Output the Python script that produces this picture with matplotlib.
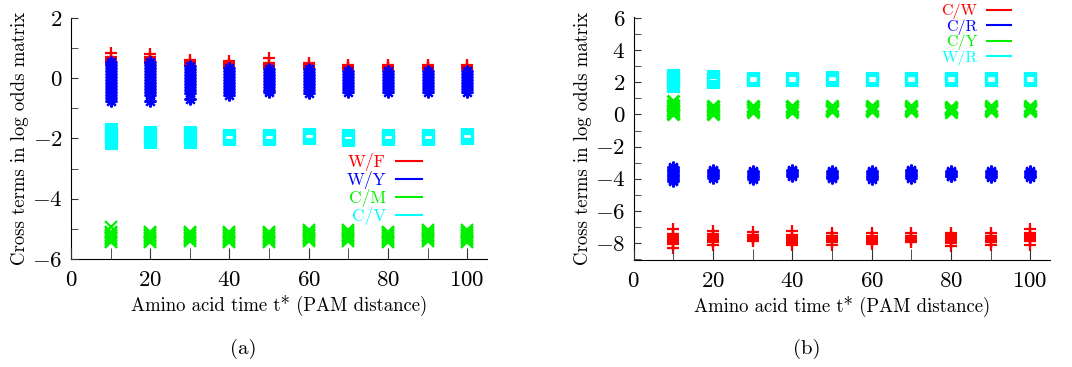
import matplotlib
matplotlib.use('Agg')
import matplotlib.pyplot as plt
from matplotlib.lines import Line2D

plt.rcParams['font.family'] = ['cmr10', 'DejaVu Serif']
plt.rcParams['mathtext.fontset'] = 'cm'
plt.rcParams['axes.formatter.use_mathtext'] = True

# PAM distances where the cross terms were sampled
pam = [10, 20, 30, 40, 50, 60, 70, 80, 90, 100]

# panel (a): values, one list per PAM distance
wf_vals = [[0.85, 0.7, 0.65, 0.6, 0.55, 0.5, 0.45],
           [0.8, 0.7, 0.65, 0.6, 0.55, 0.5],
           [0.62, 0.55, 0.5, 0.45, 0.4],
           [0.58, 0.5, 0.45, 0.4, 0.35],
           [0.68, 0.5, 0.45, 0.4, 0.35],
           [0.5, 0.45, 0.4, 0.35, 0.3],
           [0.45, 0.4, 0.35, 0.3],
           [0.45, 0.4, 0.35, 0.3],
           [0.45, 0.4, 0.35, 0.3],
           [0.45, 0.4, 0.35, 0.3]]
wy_vals = [[0.55, 0.45, 0.35, 0.25, 0.15, 0.05, -0.05, -0.15, -0.25, -0.35, -0.45, -0.55, -0.65, -0.75],
           [0.55, 0.45, 0.35, 0.25, 0.15, 0.05, -0.05, -0.15, -0.25, -0.35, -0.45, -0.55, -0.75],
           [0.4, 0.3, 0.2, 0.1, 0.0, -0.1, -0.2, -0.3, -0.4, -0.5, -0.7],
           [0.35, 0.25, 0.15, 0.05, -0.05, -0.15, -0.25, -0.35, -0.45, -0.55],
           [0.3, 0.2, 0.1, 0.0, -0.1, -0.2, -0.3, -0.4, -0.45],
           [0.3, 0.2, 0.1, 0.0, -0.1, -0.2, -0.3, -0.4, -0.48],
           [0.25, 0.15, 0.05, -0.05, -0.15, -0.25, -0.35, -0.45],
           [0.25, 0.15, 0.05, -0.05, -0.15, -0.25, -0.35, -0.45],
           [0.25, 0.15, 0.05, -0.05, -0.15, -0.25, -0.35, -0.45],
           [0.25, 0.15, 0.05, -0.05, -0.15, -0.25, -0.35, -0.45]]
cm_vals = [[-4.95, -5.1, -5.15, -5.2, -5.25, -5.3, -5.35, -5.4, -5.45],
           [-5.1, -5.15, -5.2, -5.25, -5.3, -5.35, -5.4, -5.45],
           [-5.1, -5.15, -5.2, -5.25, -5.3, -5.35, -5.4],
           [-5.1, -5.15, -5.2, -5.25, -5.3, -5.35, -5.4, -5.45],
           [-5.1, -5.15, -5.2, -5.25, -5.3, -5.35, -5.4, -5.45],
           [-5.05, -5.1, -5.15, -5.2, -5.25, -5.3, -5.35, -5.4],
           [-5.05, -5.1, -5.15, -5.2, -5.25, -5.3, -5.35, -5.4],
           [-5.1, -5.15, -5.2, -5.25, -5.3, -5.35, -5.4, -5.45],
           [-5.05, -5.1, -5.15, -5.2, -5.25, -5.3, -5.35, -5.4],
           [-5.05, -5.1, -5.15, -5.2, -5.25, -5.3, -5.35, -5.4, -5.45]]
cv_vals = [[-1.7, -1.75, -1.8, -1.85, -1.9, -1.95, -2.0, -2.05, -2.1, -2.15],
           [-1.78, -1.82, -1.86, -1.9, -1.94, -1.98, -2.02, -2.06, -2.1],
           [-1.78, -1.82, -1.86, -1.9, -1.94, -1.98, -2.02, -2.06, -2.1],
           [-1.88, -1.9, -1.92, -1.94, -1.96, -1.98, -2.0, -2.02],
           [-1.88, -1.9, -1.92, -1.94, -1.96, -1.98, -2.0, -2.02],
           [-1.84, -1.86, -1.88, -1.9, -1.92, -1.94, -1.96, -1.98],
           [-1.9, -1.92, -1.94, -1.96, -1.98, -2.0, -2.02, -2.04],
           [-1.88, -1.9, -1.92, -1.94, -1.96, -1.98, -2.0, -2.02],
           [-1.88, -1.9, -1.92, -1.94, -1.96, -1.98, -2.0, -2.02],
           [-1.86, -1.88, -1.9, -1.92, -1.94, -1.96, -1.98, -2.0]]

# panel (b)
cw_vals = [[-7.15, -7.45, -7.55, -7.65, -7.75, -7.85, -7.95, -8.05, -8.3],
           [-7.25, -7.45, -7.55, -7.65, -7.75, -7.85, -7.95, -8.15],
           [-7.3, -7.5, -7.6, -7.7, -7.8, -7.9],
           [-7.25, -7.5, -7.6, -7.7, -7.8, -7.9, -8.0, -8.15],
           [-7.35, -7.55, -7.65, -7.75, -7.85, -7.95, -8.1],
           [-7.4, -7.55, -7.65, -7.75, -7.85, -7.95, -8.05],
           [-7.4, -7.55, -7.65, -7.75, -7.85, -7.95],
           [-7.35, -7.5, -7.6, -7.7, -7.8, -7.9, -8.0, -8.2],
           [-7.4, -7.55, -7.65, -7.75, -7.85, -7.95, -8.1],
           [-7.15, -7.35, -7.5, -7.6, -7.7, -7.8, -7.9, -8.1]]
cr_vals = [[-3.25, -3.35, -3.45, -3.55, -3.65, -3.75, -3.85, -3.95, -4.05, -4.15],
           [-3.45, -3.55, -3.65, -3.75, -3.85, -3.95],
           [-3.5, -3.6, -3.7, -3.8, -3.9, -4.0],
           [-3.45, -3.55, -3.65, -3.75, -3.85],
           [-3.5, -3.6, -3.7, -3.8, -3.9, -3.95],
           [-3.5, -3.6, -3.7, -3.8, -3.9, -4.0],
           [-3.45, -3.55, -3.65, -3.75, -3.85, -3.95],
           [-3.5, -3.6, -3.7, -3.8, -3.85],
           [-3.5, -3.6, -3.7, -3.8, -3.9],
           [-3.5, -3.6, -3.7, -3.8, -3.9]]
cy_vals = [[0.85, 0.6, 0.5, 0.4, 0.3, 0.2, 0.1, 0.05],
           [0.55, 0.45, 0.35, 0.25, 0.15, 0.05],
           [0.55, 0.45, 0.35, 0.25, 0.15],
           [0.55, 0.45, 0.35, 0.25, 0.15],
           [0.5, 0.42, 0.35, 0.28, 0.2],
           [0.5, 0.42, 0.35, 0.28, 0.2],
           [0.5, 0.42, 0.35, 0.28, 0.2],
           [0.48, 0.4, 0.33, 0.26, 0.18],
           [0.5, 0.42, 0.35, 0.28, 0.2],
           [0.5, 0.42, 0.35, 0.28, 0.2]]
wr_vals = [[2.45, 2.4, 2.35, 2.3, 2.25, 2.2, 2.15, 2.1, 2.05, 2.0, 1.95, 1.9, 1.75],
           [2.4, 2.35, 2.3, 2.25, 2.2, 2.15, 2.1, 2.05, 2.0],
           [2.3, 2.27, 2.24, 2.21, 2.18, 2.15, 2.12],
           [2.3, 2.27, 2.24, 2.21, 2.18, 2.15, 2.12],
           [2.32, 2.29, 2.26, 2.23, 2.2, 2.17, 2.14],
           [2.3, 2.27, 2.24, 2.21, 2.18, 2.15, 2.12],
           [2.3, 2.27, 2.24, 2.21, 2.18, 2.15, 2.12],
           [2.3, 2.27, 2.24, 2.21, 2.18, 2.15, 2.12],
           [2.3, 2.27, 2.24, 2.21, 2.18, 2.15, 2.12],
           [2.3, 2.27, 2.24, 2.21, 2.18, 2.15, 2.12]]

RED, BLUE, GREEN, CYAN = '#ff0000', '#0000ff', '#00f000', '#00ffff'
ASTER = (8, 2, 0)


def scatter_cluster(ax, vals, color, marker, ms, mew, filled=True):
    xs, ys = [], []
    for x, col in zip(pam, vals):
        xs += [x] * len(col)
        ys += col
    ax.plot(xs, ys, linestyle='none', marker=marker, ms=ms, mew=mew,
            color=color, mfc=color if filled else 'none')


def style_axes(ax, ylim, yminor):
    ax.set_xlim(0, 105)
    ax.set_ylim(*ylim)
    for s in ['top', 'right']:
        ax.spines[s].set_visible(False)
    ax.set_xticks(range(0, 101, 20))
    ax.set_xticks(pam, minor=True)
    ax.set_yticks(yminor, minor=True)
    ax.tick_params(axis='both', which='both', direction='in', labelsize=16.5,
                   color='#333333')
    ax.tick_params(axis='x', which='both', length=8, pad=8)
    ax.tick_params(axis='y', which='both', length=5, pad=6)
    ax.set_axisbelow(False)
    ax.set_xlabel('Amino acid time t* (PAM distance)', fontsize=13.5, labelpad=4)
    ax.set_ylabel('Cross terms in log odds matrix', fontsize=13.5, labelpad=2)


fig = plt.figure(figsize=(10.72, 3.67), dpi=100)
ax1 = fig.add_axes([0.0662, 0.2943, 0.3881, 0.6567])
ax2 = fig.add_axes([0.591, 0.2916, 0.3885, 0.6634])

scatter_cluster(ax1, wf_vals, RED, '+', 9, 1.6)
scatter_cluster(ax1, wy_vals, BLUE, ASTER, 8.5, 1.6)
scatter_cluster(ax1, cm_vals, GREEN, 'x', 8, 1.6)
scatter_cluster(ax1, cv_vals, CYAN, 's', 7, 2.2, filled=False)
style_axes(ax1, (-6, 2), [-5, -3, -1, 1])
ax1.set_yticks(range(-6, 3, 2))

scatter_cluster(ax2, cw_vals, RED, '+', 9, 1.6)
scatter_cluster(ax2, cr_vals, BLUE, ASTER, 8.5, 1.6)
scatter_cluster(ax2, cy_vals, GREEN, 'x', 8, 2.2)
scatter_cluster(ax2, wr_vals, CYAN, 's', 7, 2.2, filled=False)
style_axes(ax2, (-9.06, 6.1), [-9, -7, -5, -3, -1, 1, 3, 5])
ax2.set_yticks(range(-8, 7, 2))


def key(ax, labels, colors, anchor, size):
    handles = [Line2D([], [], color=c, lw=1.5) for c in colors]
    ax.legend(handles, labels, loc='upper right', bbox_to_anchor=anchor,
              bbox_transform=fig.transFigure, frameon=False, markerfirst=False,
              labelcolor=colors, fontsize=size, handlelength=1.5,
              handletextpad=0.6, labelspacing=0.0, borderpad=0, borderaxespad=0)


key(ax1, ['W/F', 'W/Y', 'C/M', 'C/V'], [RED, BLUE, GREEN, CYAN], (0.394, 0.583), 12.5)
key(ax2, ['C/W', 'C/R', 'C/Y', 'W/R'], [RED, BLUE, GREEN, CYAN], (0.943, 0.99), 11.5)

fig.text(0.227, 0.035, '(a)', fontsize=15, ha='center')
fig.text(0.753, 0.035, '(b)', fontsize=15, ha='center')

fig.savefig('out.png', dpi=100)
